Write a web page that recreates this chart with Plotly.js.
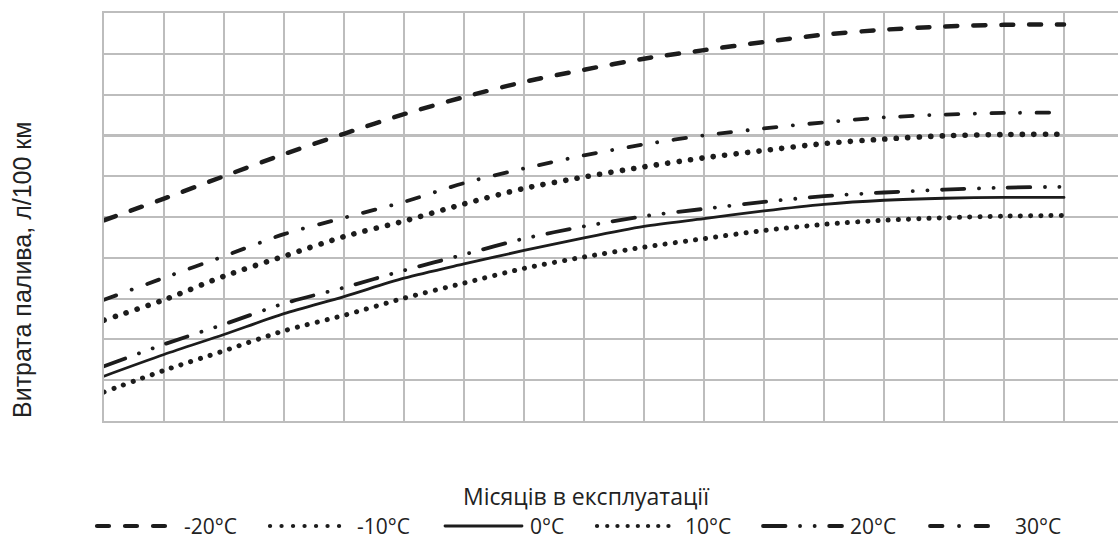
<!DOCTYPE html>
<html>
<head>
<meta charset="utf-8">
<script src="https://cdn.plot.ly/plotly-3.0.1.min.js"></script>
<style>
  html, body { margin: 0; padding: 0; background: #ffffff; }
  #chart { width: 1118px; height: 542px; }
</style>
</head>
<body>
<div id="chart"></div>
<script>
// ---- data ----
const months = [0, 1, 2, 3, 4, 5, 6, 7, 8, 9, 10, 11, 12, 13, 14, 15, 16];
const tempLabels = ['-20°C', '-10°C', '0°C', '10°C', '20°C', '30°C'];
const fuelM20 = [4.92, 5.45, 6.00, 6.54, 7.04, 7.52, 7.94, 8.31, 8.61, 8.88, 9.09, 9.29, 9.47, 9.59, 9.67, 9.71, 9.72];
const fuelM10 = [2.47, 2.97, 3.55, 4.04, 4.52, 4.90, 5.32, 5.70, 5.98, 6.23, 6.45, 6.63, 6.80, 6.91, 6.99, 7.02, 7.03];
const fuel0   = [1.10, 1.63, 2.12, 2.63, 3.05, 3.50, 3.85, 4.18, 4.49, 4.77, 4.96, 5.15, 5.31, 5.41, 5.46, 5.48, 5.48];
const fuel10  = [0.71, 1.24, 1.72, 2.21, 2.59, 3.01, 3.38, 3.74, 4.02, 4.26, 4.47, 4.67, 4.82, 4.92, 4.98, 5.02, 5.04];
const fuel20  = [1.34, 1.88, 2.37, 2.88, 3.27, 3.69, 4.08, 4.47, 4.77, 5.02, 5.20, 5.37, 5.51, 5.60, 5.67, 5.72, 5.74];
const fuel30  = [2.97, 3.51, 4.04, 4.58, 4.98, 5.37, 5.83, 6.19, 6.51, 6.78, 7.00, 7.17, 7.32, 7.44, 7.51, 7.55, 7.56];
const xTitle = 'Місяців в експлуатації';
const yTitle = 'Витрата палива, л/100 км';

// ---- styles ----
const ink = '#1c1c1c';
const styles = [
  { width: 4.5, dash: '12px,16px' },
  { width: 5.6, dash: '0.1px,11.4px' },
  { width: 2.8, dash: 'solid' },
  { width: 5.0, dash: '0.1px,10.1px' },
  { width: 3.8, dash: '22.5px,14.5px,0.1px,14.5px,0.1px,14.5px' },
  { width: 3.8, dash: '12.5px,16.5px,0.1px,16.5px' }
];
const seriesValues = [fuelM20, fuelM10, fuel0, fuel10, fuel20, fuel30];

const traces = seriesValues.map((vals, i) => ({
  x: months,
  y: vals,
  name: tempLabels[i],
  type: 'scatter',
  mode: 'lines',
  line: { color: ink, width: styles[i].width, dash: styles[i].dash, shape: 'spline', smoothing: 0.8 },
  showlegend: false,
  hoverinfo: 'skip'
}));

// ---- layout geometry (pixels) ----
const W = 1118, H = 542;
const mL = 104, mR = 0, mT = 13, mB = 121;
const plotW = W - mL - mR, plotH = H - mT - mB;
const px = v => (v - mL) / plotW;
const py = v => (H - mB - v) / plotH;

// custom legend: sample line spans and text starts (pixels)
const legendSpans = [[97, 173], [270, 347], [445, 522], [597, 675], [763, 842], [930, 995]];
const legendTextX = [182, 355, 528, 683, 848, 1013];
const legendY = 526;

const shapes = legendSpans.map((s, i) => ({
  type: 'line', xref: 'paper', yref: 'paper',
  x0: px(s[0]), x1: px(s[1]), y0: py(legendY), y1: py(legendY),
  line: { color: ink, width: Math.min(styles[i].width, 4.2), dash: styles[i].dash }
}));

const textFont = { family: 'Open Sans, Noto Sans, sans-serif', size: 21, color: '#222222' };
const annotations = tempLabels.map((t, i) => ({
  text: t, xref: 'paper', yref: 'paper',
  x: px(legendTextX[i]), y: py(legendY), xanchor: 'left', yanchor: 'middle',
  showarrow: false, font: textFont
}));
annotations.push({
  text: xTitle, xref: 'paper', yref: 'paper',
  x: px(586), y: py(496), xanchor: 'center', yanchor: 'middle',
  showarrow: false, font: { family: 'Open Sans, Noto Sans, sans-serif', size: 23, color: '#222222' }
});
annotations.push({
  text: yTitle, xref: 'paper', yref: 'paper',
  x: px(22), y: py(270), xanchor: 'center', yanchor: 'middle', textangle: -90,
  showarrow: false, font: { family: 'Liberation Sans, Arial, sans-serif', size: 25, color: '#222222' }
});

const grid = '#bdbdbd';
const layout = {
  width: W, height: H,
  margin: { l: mL, r: mR, t: mT, b: mB, pad: 0 },
  paper_bgcolor: '#ffffff', plot_bgcolor: '#ffffff',
  showlegend: false,
  xaxis: {
    range: [0, plotW / 60], dtick: 1, tick0: 0,
    showgrid: true, gridcolor: grid, gridwidth: 2.2,
    zeroline: false, showline: true, linecolor: grid, linewidth: 2.2, mirror: true,
    showticklabels: false, ticks: '', fixedrange: true
  },
  yaxis: {
    range: [0, 10], dtick: 1, tick0: 0,
    showgrid: true, gridcolor: grid, gridwidth: 2.2,
    zeroline: false, showline: true, linecolor: grid, linewidth: 2.2,
    showticklabels: false, ticks: '', fixedrange: true
  },
  shapes: shapes,
  annotations: annotations
};

function roundCaps() {
  document.querySelectorAll('#chart .scatterlayer path.js-line, #chart .shapelayer path').forEach(p => {
    p.style.setProperty('stroke-linecap', 'round', 'important');
    p.setAttribute('stroke-linecap', 'round');
  });
}

Plotly.newPlot('chart', traces, layout, { staticPlot: true, displayModeBar: false }).then(gd => {
  roundCaps();
  gd.on('plotly_afterplot', roundCaps);
});
</script>
</body>
</html>
